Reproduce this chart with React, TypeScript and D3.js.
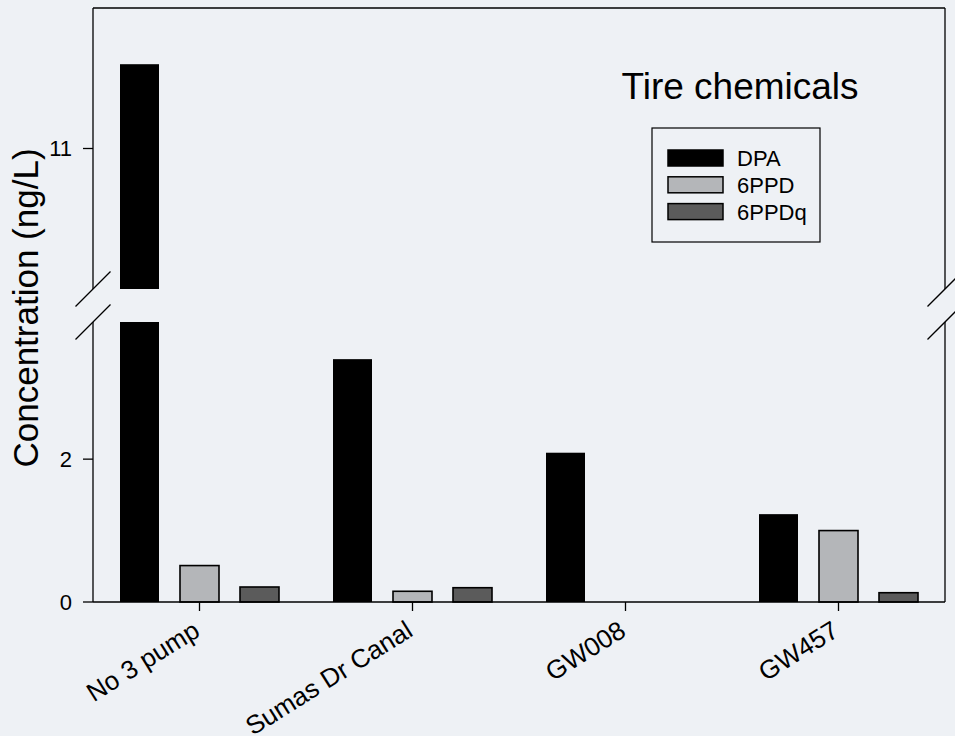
import React from 'react'
import * as d3 from 'd3'

// data
const sites = ['No 3 pump', 'Sumas Dr Canal', 'GW008', 'GW457']
const chemicals = ['DPA', '6PPD', '6PPDq']
const dpa = [11.6, 3.4, 2.09, 1.23]
const ppd = [0.51, 0.15, 0, 1.0]
const ppdq = [0.21, 0.2, 0, 0.13]
const lowTicks = [0, 2]
const highTicks = [11]
const lowDomain = [0, 3.92]
const highDomain = [10, 12]

const W = 955
const H = 736
const left = 93
const right = 945
const top = 8
const bottom = 602
const breakLow = 322
const breakHigh = 289

const fills = { DPA: '#000000', '6PPD': '#b4b6b9', '6PPDq': '#5b5b5b' }
const font = '"Liberation Sans", Arial, sans-serif'

export default function App() {
  const x0 = d3.scaleBand().domain(sites).range([left, right])
  const x1 = d3
    .scaleBand()
    .domain(chemicals)
    .range([16.5, 196.5])
    .paddingInner(0.35)
    .paddingOuter(0.175)
  const yLow = d3.scaleLinear().domain(lowDomain).range([bottom, breakLow])
  const yHigh = d3.scaleLinear().domain(highDomain).range([breakHigh, top])
  const color = d3.scaleOrdinal<string, string>().domain(chemicals).range(chemicals.map((c) => fills[c]))

  const series = [dpa, ppd, ppdq]
  const bars: any[] = []
  sites.forEach((s, i) => {
    chemicals.forEach((c, j) => {
      const v = series[j][i]
      if (!v) return
      const x = x0(s)! + x1(c)!
      const w = x1.bandwidth()
      const stroke = c === 'DPA' ? 'none' : '#000'
      if (v > lowDomain[1]) {
        // broken bar: full lower part + upper part
        bars.push(<rect key={s + c + 'lo'} x={x} y={breakLow} width={w} height={bottom - breakLow} fill={color(c)} />)
        bars.push(<rect key={s + c + 'hi'} x={x} y={yHigh(v)} width={w} height={breakHigh - yHigh(v)} fill={color(c)} />)
      } else {
        bars.push(
          <rect key={s + c} x={x} y={yLow(v)} width={w} height={bottom - yLow(v)} fill={color(c)}
            stroke={stroke} strokeWidth={1.6} />
        )
      }
    })
  })

  const slash = (cx: number, cy: number, k: string) => (
    <line key={k} x1={cx - 17.5} y1={cy + 17.5} x2={cx + 17.5} y2={cy - 17.5} stroke="#000" strokeWidth={1.3} />
  )

  return (
    <svg width={W} height={H} style={{ position: 'absolute', left: 0, top: 0, background: '#eef1f5' }} fontFamily={font}>
      <rect x={0} y={0} width={W} height={H} fill="#eef1f5" />
      {bars}
      {/* frame */}
      <g stroke="#000" strokeWidth={1.3} fill="none">
        <line x1={left} x2={right} y1={top} y2={top} />
        <line x1={left} x2={right} y1={bottom} y2={bottom} />
        <line x1={left} x2={left} y1={top} y2={breakHigh} />
        <line x1={left} x2={left} y1={breakLow} y2={bottom} />
        <line x1={right} x2={right} y1={top} y2={breakHigh} />
        <line x1={right} x2={right} y1={breakLow} y2={bottom} />
      </g>
      {slash(left, breakHigh, 'a')}
      {slash(left, breakLow, 'b')}
      {slash(right, breakHigh, 'c')}
      {slash(right, breakLow, 'd')}
      {/* y ticks */}
      {lowTicks.map((t) => (
        <g key={'l' + t} transform={`translate(${left},${yLow(t)})`}>
          <line x1={-10} x2={0} stroke="#000" strokeWidth={1.3} />
          <text x={-21} dy="0.36em" textAnchor="end" fontSize={22}>{t}</text>
        </g>
      ))}
      {highTicks.map((t) => (
        <g key={'h' + t} transform={`translate(${left},${yHigh(t)})`}>
          <line x1={-10} x2={0} stroke="#000" strokeWidth={1.3} />
          <text x={-21} dy="0.36em" textAnchor="end" fontSize={22}>{t}</text>
        </g>
      ))}
      {/* x ticks */}
      {sites.map((s) => {
        const cx = x0(s)! + x0.bandwidth() / 2
        return (
          <g key={s} transform={`translate(${cx},${bottom})`}>
            <line y1={0} y2={9} stroke="#000" strokeWidth={1.3} />
            <text transform="translate(2,33) rotate(-32)" textAnchor="end" fontSize={26}>{s}</text>
          </g>
        )
      })}
      <text transform={`translate(38,308) rotate(-90)`} textAnchor="middle" fontSize={35}>
        Concentration (ng/L)
      </text>
      <text x={740} y={99} textAnchor="middle" fontSize={37}>Tire chemicals</text>
      {/* legend */}
      <rect x={652} y={128} width={168} height={114} fill="none" stroke="#000" strokeWidth={1.2} />
      {chemicals.map((c, i) => (
        <g key={c} transform={`translate(668,${150 + i * 26.8})`}>
          <rect width={55} height={16} fill={color(c)} stroke="#000" strokeWidth={1.5} />
          <text x={69} y={8} dy="0.36em" fontSize={22}>{c}</text>
        </g>
      ))}
    </svg>
  )
}
